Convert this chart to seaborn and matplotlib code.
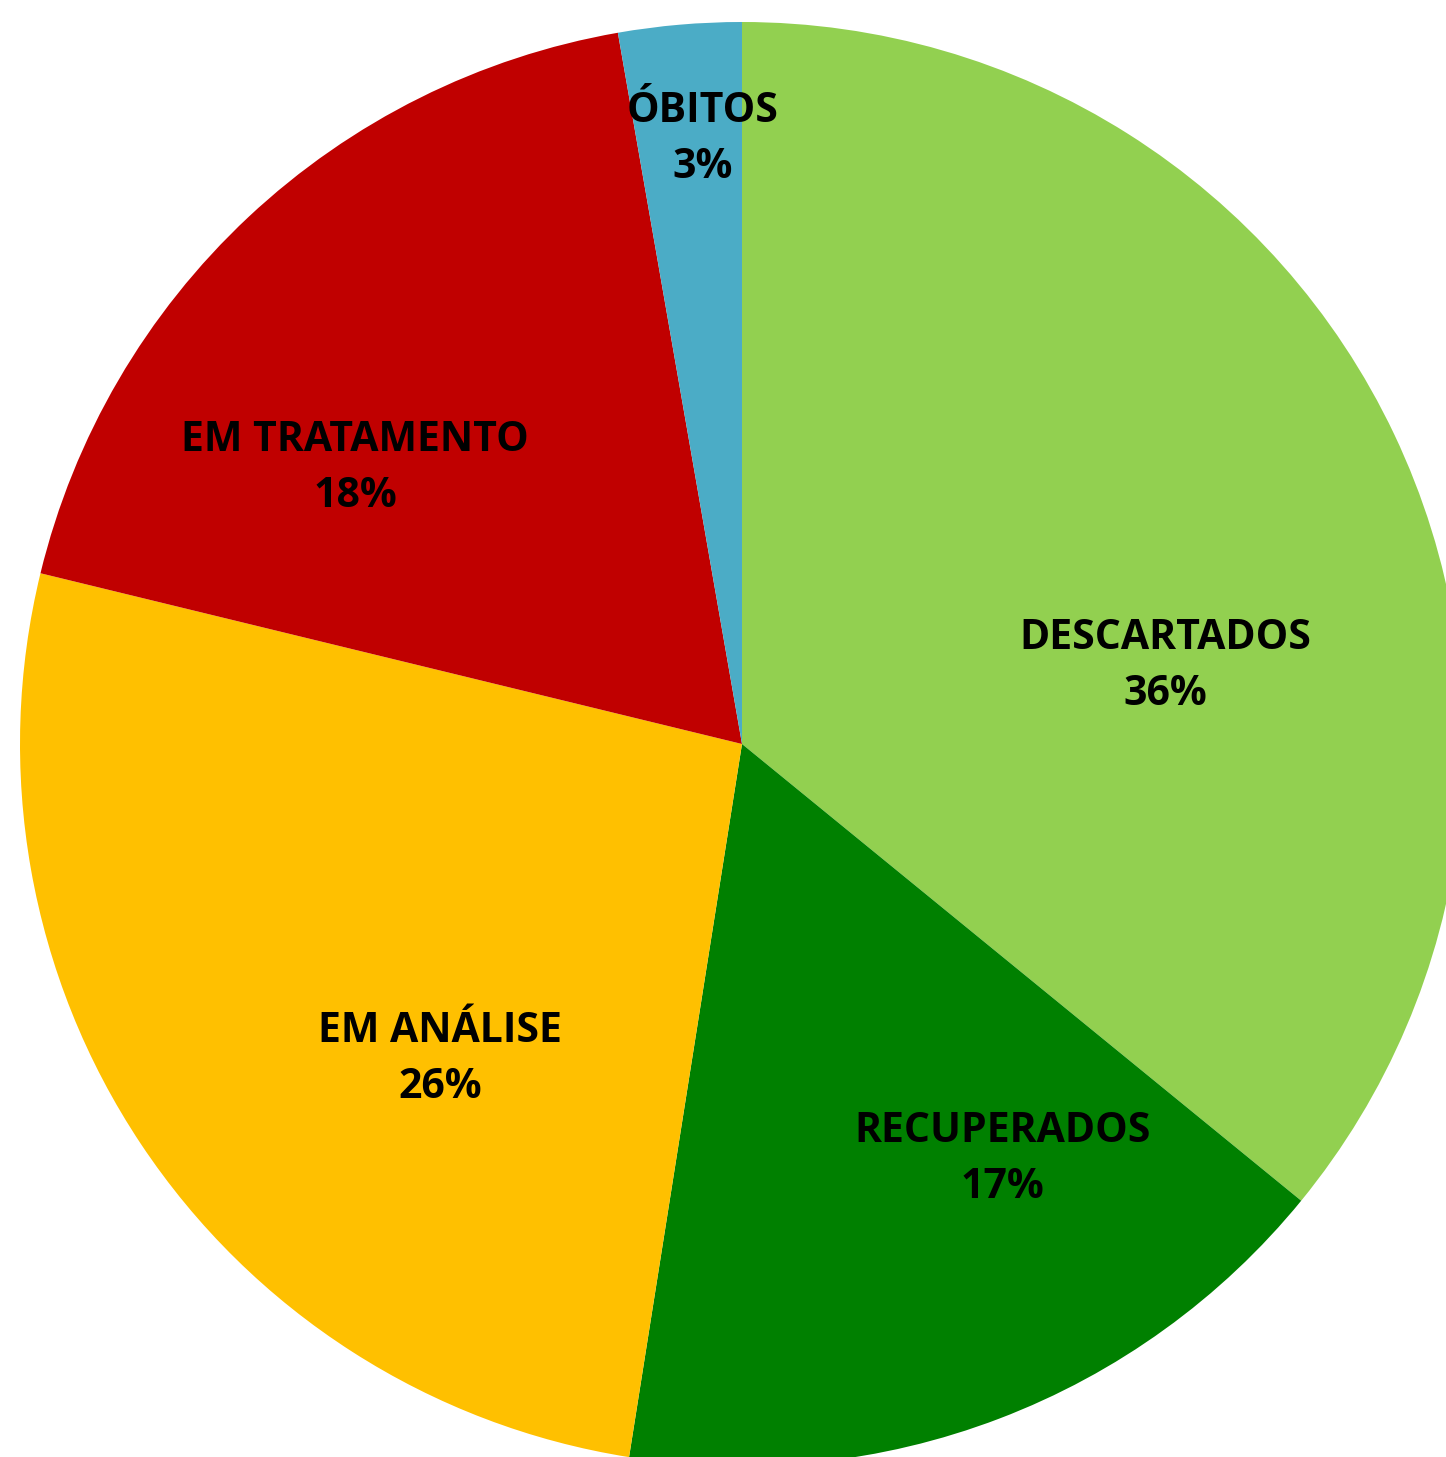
import matplotlib
matplotlib.use('Agg')
import matplotlib.pyplot as plt
import seaborn as sns

#  Data 
categories = ["DESCARTADOS", "RECUPERADOS", "EM ANÁLISE", "EM TRATAMENTO", "ÓBITOS"]
shares = [35.9, 16.6, 26.3, 18.45, 2.75]
colors = ["#92D050", "#008000", "#FFC000", "#C00000", "#4BACC6"]

# label anchor points (data coords, pie radius = 1)
label_pos = [(0.586, 0.107), (0.361, -0.575), (-0.418, -0.437),
             (-0.536, 0.382), (-0.054, 0.837)]

sns.set_style("white")
plt.rcParams["font.family"] = ["Open Sans", "DejaVu Sans"]

W, H = 1446, 1457
cx, cy, r = 742, 744, 722
fig = plt.figure(figsize=(W / 100, H / 100), dpi=100)
ax = fig.add_axes([(cx - r) / W, (H - cy - r) / H, 2 * r / W, 2 * r / H])

ax.pie(shares, colors=colors, startangle=90, counterclock=False,
       radius=1, wedgeprops={"linewidth": 0, "antialiased": True})
ax.set_xlim(-1, 1)
ax.set_ylim(-1, 1)
ax.axis("off")

total = sum(shares)
for name, val, (x, y) in zip(categories, shares, label_pos):
    ax.text(x, y, f"{name}\n{val / total * 100:.0f}%", ha="center", va="center",
            fontsize=29.5, fontweight="bold", color="black", linespacing=1.48)

fig.savefig("out.png", dpi=100)
